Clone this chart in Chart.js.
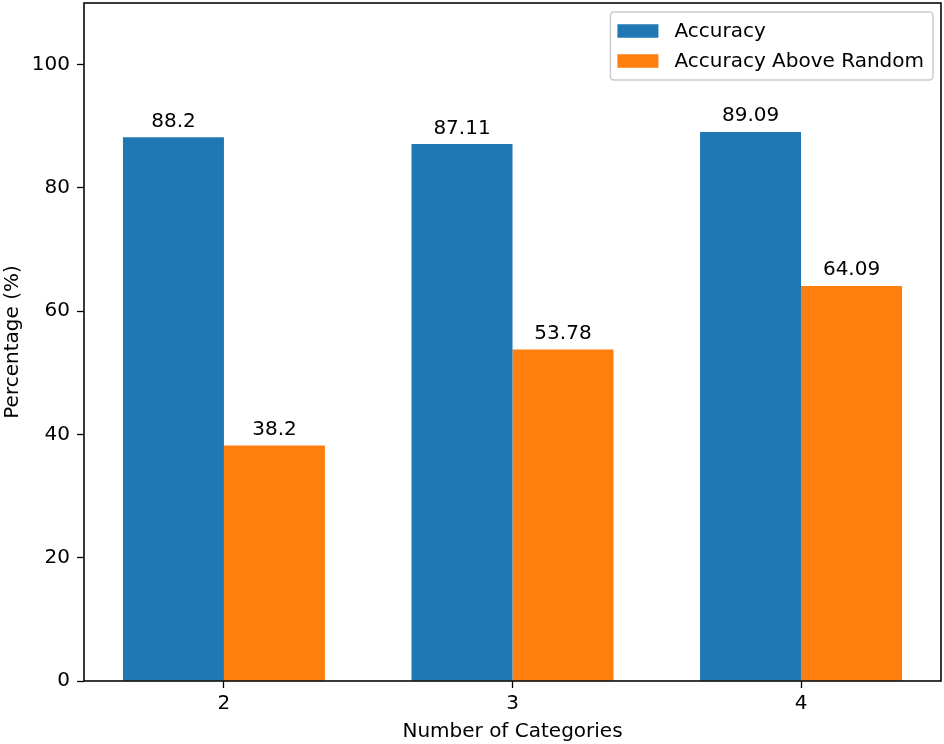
<!DOCTYPE html>
<html>
<head>
<meta charset="utf-8">
<script src="https://cdn.jsdelivr.net/npm/chart.js@4.4.1/dist/chart.umd.min.js"></script>
<style>
  html, body { margin: 0; padding: 0; background: #ffffff; }
  #wrap { width: 944px; height: 744px; }
</style>
</head>
<body>
<div id="wrap"><canvas id="c" width="944" height="744"></canvas></div>
<script>
// ---- data ----
const categories = [2, 3, 4];
const accuracy = [88.2, 87.11, 89.09];
const accuracyAboveRandom = [38.2, 53.78, 64.09];
const seriesNames = ['Accuracy', 'Accuracy Above Random'];
const yTickValues = [0, 20, 40, 60, 80, 100];
const xTitle = 'Number of Categories';
const yTitle = 'Percentage (%)';

const FONT = "'DejaVu Sans', sans-serif";
const FS = 20;
const BLUE = '#1f77b4';
const ORANGE = '#ff7f0e';

function toPoints(vals) { return categories.map((c, i) => ({ x: c, y: vals[i] })); }

const framePlugin = {
  id: 'frame',
  afterDatasetsDraw(chart) {
    const { ctx, chartArea: a } = chart;
    ctx.save();
    ctx.strokeStyle = '#000';
    ctx.lineWidth = 1.55;
    ctx.strokeRect(a.left, a.top, a.right - a.left, a.bottom - a.top);
    ctx.restore();
  }
};

const valueLabelPlugin = {
  id: 'valueLabels',
  afterDatasetsDraw(chart) {
    const ctx = chart.ctx;
    ctx.save();
    ctx.font = FS + 'px ' + FONT;
    ctx.fillStyle = '#000';
    ctx.textAlign = 'center';
    ctx.textBaseline = 'alphabetic';
    chart.data.datasets.forEach((ds, di) => {
      const meta = chart.getDatasetMeta(di);
      meta.data.forEach((bar, i) => {
        const v = ds.data[i].y;
        ctx.fillText(String(v), bar.x, bar.y - 10.5);
      });
    });
    ctx.restore();
  }
};

const legendPlugin = {
  id: 'boxLegend',
  afterDraw(chart) {
    const ctx = chart.ctx;
    const a = chart.chartArea;
    ctx.save();
    ctx.font = FS + 'px ' + FONT;
    const items = chart.data.datasets.map(d => ({ label: d.label, color: d.backgroundColor }));
    let maxW = 0;
    items.forEach(it => { maxW = Math.max(maxW, ctx.measureText(it.label).width); });
    const right = a.right - 8;
    const top = a.top + 9;
    const handleW = 41, handleH = 13.5, gap = 16, padL = 7, padR = 9;
    const w = padL + handleW + gap + maxW + padR;
    const h = 68;
    const left = right - w;
    const r = 4;
    ctx.beginPath();
    ctx.moveTo(left + r, top);
    ctx.lineTo(left + w - r, top);
    ctx.quadraticCurveTo(left + w, top, left + w, top + r);
    ctx.lineTo(left + w, top + h - r);
    ctx.quadraticCurveTo(left + w, top + h, left + w - r, top + h);
    ctx.lineTo(left + r, top + h);
    ctx.quadraticCurveTo(left, top + h, left, top + h - r);
    ctx.lineTo(left, top + r);
    ctx.quadraticCurveTo(left, top, left + r, top);
    ctx.closePath();
    ctx.fillStyle = 'rgba(255,255,255,0.8)';
    ctx.fill();
    ctx.strokeStyle = '#cccccc';
    ctx.lineWidth = 1.5;
    ctx.stroke();
    items.forEach((it, i) => {
      const cy = top + 19 + i * 30;
      ctx.fillStyle = it.color;
      ctx.fillRect(left + padL, cy - handleH / 2, handleW, handleH);
      ctx.fillStyle = '#000';
      ctx.textAlign = 'left';
      ctx.textBaseline = 'middle';
      ctx.fillText(it.label, left + padL + handleW + gap, cy + 1);
    });
    ctx.restore();
  }
};

new Chart(document.getElementById('c'), {
  type: 'bar',
  data: {
    datasets: [
      { label: seriesNames[0], data: toPoints(accuracy), backgroundColor: BLUE, borderWidth: 0 },
      { label: seriesNames[1], data: toPoints(accuracyAboveRandom), backgroundColor: ORANGE, borderWidth: 0 }
    ]
  },
  options: {
    responsive: false,
    animation: false,
    devicePixelRatio: 1,
    layout: { padding: { left: 0, right: 3, top: 3, bottom: 0 } },
    datasets: { bar: { categoryPercentage: 0.7, barPercentage: 1.0 } },
    plugins: {
      legend: { display: false },
      tooltip: { enabled: false },
      title: { display: false }
    },
    scales: {
      x: {
        type: 'linear',
        min: 1.515,
        max: 4.485,
        offset: false,
        afterBuildTicks(scale) { scale.ticks = categories.map(v => ({ value: v })); },
        afterFit(scale) { scale.height = 63; scale.paddingLeft = 0; scale.paddingRight = 0; },
        grid: { offset: false, drawOnChartArea: false, drawTicks: true, tickLength: 7, color: '#000', tickWidth: 1.3 },
        border: { display: false },
        ticks: {
          color: '#000', font: { family: FONT, size: FS }, padding: 4,
          maxRotation: 0, autoSkip: false,
          callback: (v) => String(v)
        },
        title: { display: true, text: xTitle, color: '#000', font: { family: FONT, size: FS }, padding: { top: 0, bottom: 0 } }
      },
      y: {
        type: 'linear',
        min: 0,
        max: 110,
        afterBuildTicks(scale) { scale.ticks = yTickValues.map(v => ({ value: v })); },
        afterFit(scale) { scale.width = 84; scale.paddingTop = 0; scale.paddingBottom = 0; },
        grid: { drawOnChartArea: false, drawTicks: true, tickLength: 7, color: '#000', tickWidth: 1.3 },
        border: { display: false },
        ticks: { color: '#000', font: { family: FONT, size: FS }, padding: 7 },
        title: { display: true, text: yTitle, color: '#000', font: { family: FONT, size: FS }, padding: { top: 1, bottom: 0 } }
      }
    }
  },
  plugins: [framePlugin, valueLabelPlugin, legendPlugin]
});
</script>
</body>
</html>
